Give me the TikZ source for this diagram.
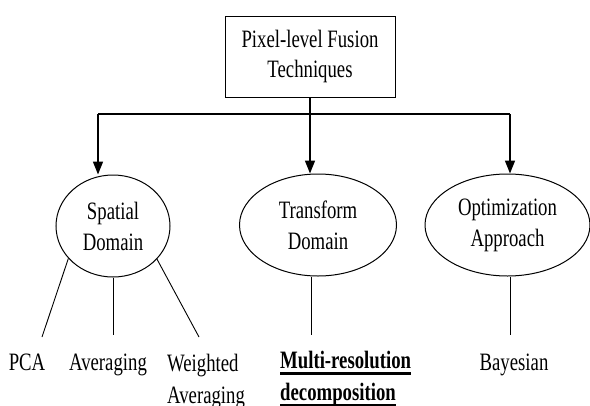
\documentclass[tikz,border=0pt]{standalone}
\usepackage{fontspec}
\setmainfont{Liberation Serif}[FakeStretch=0.75]
\usetikzlibrary{shapes.geometric,arrows.meta}
\newcommand\myul[1]{\setbox0\hbox{#1}\rlap{\rule[-6.5pt]{\wd0}{2.4pt}}\box0}
\begin{document}
\begin{tikzpicture}[x=1pt,y=-1pt,
  txt/.style={font=\fontsize{25}{32}\selectfont, inner sep=0pt, align=center},
  boxnode/.style={txt, draw, line width=0.9pt, minimum width=170pt, minimum height=81pt, font=\fontsize{25}{30}\selectfont},
  ell/.style={txt, draw, ellipse, line width=1pt, inner sep=0pt, font=\fontsize{25}{31}\selectfont},
  arr/.style={line width=1.6pt, -{Triangle[length=13pt,width=10pt]}},
  bar/.style={line width=1.6pt},
  twig/.style={line width=0.9pt}]
\useasboundingbox (0,0) rectangle (590,405);
\node[boxnode] (box) at (310,56.5) {Pixel-level Fusion\\Techniques};
\node[ell, minimum width=114pt, minimum height=102pt] (sp) at (113,226) {Spatial\\Domain};
\node[ell, minimum width=157pt, minimum height=102pt] (tr) at (318,225) {Transform\\Domain};
\node[ell, minimum width=165pt, minimum height=102pt] (op) at (507.5,225) {Optimization\\Approach};
\coordinate (jl) at (98,114);
\coordinate (jr) at (510,114);
\draw[bar] (jl) -- (jr);
\draw[arr] (jl) -- (jl |- sp.north);
\draw[arr] (jr) -- (jr |- op.north);
\draw[arr] (box.south) -- (box.south |- tr.north);
% leaves
\node[txt, anchor=base] (pca) at (27,370) {PCA};
\node[txt, anchor=base] (avg) at (108,370) {Averaging};
\node[txt, anchor=base west] (wavg1) at (167,371) {Weighted};
\node[txt, anchor=base west] (wavg2) at (167,403) {Averaging};
\node[txt, anchor=base west, font=\fontsize{25}{32}\selectfont\bfseries] (mr1) at (280,368) {\myul{Multi-resolution}};
\node[txt, anchor=base west, font=\fontsize{25}{32}\selectfont\bfseries] (mr2) at (280,400) {\myul{decomposition}};
\node[txt, anchor=base] (bay) at (514,370) {Bayesian};
\coordinate (e1) at (42,337);
\coordinate (e2) at (113,335);
\coordinate (e3) at (199,337);
\coordinate (e4) at (311,335);
\coordinate (e5) at (510,335);
\draw[twig] (sp.216) -- (e1);
\draw[twig] (sp.south) -- (e2);
\draw[twig] (sp.323) -- (e3);
\draw[twig] (e4 |- tr.south) -- (e4);
\draw[twig] (e5 |- op.south) -- (e5);
\end{tikzpicture}
\end{document}
